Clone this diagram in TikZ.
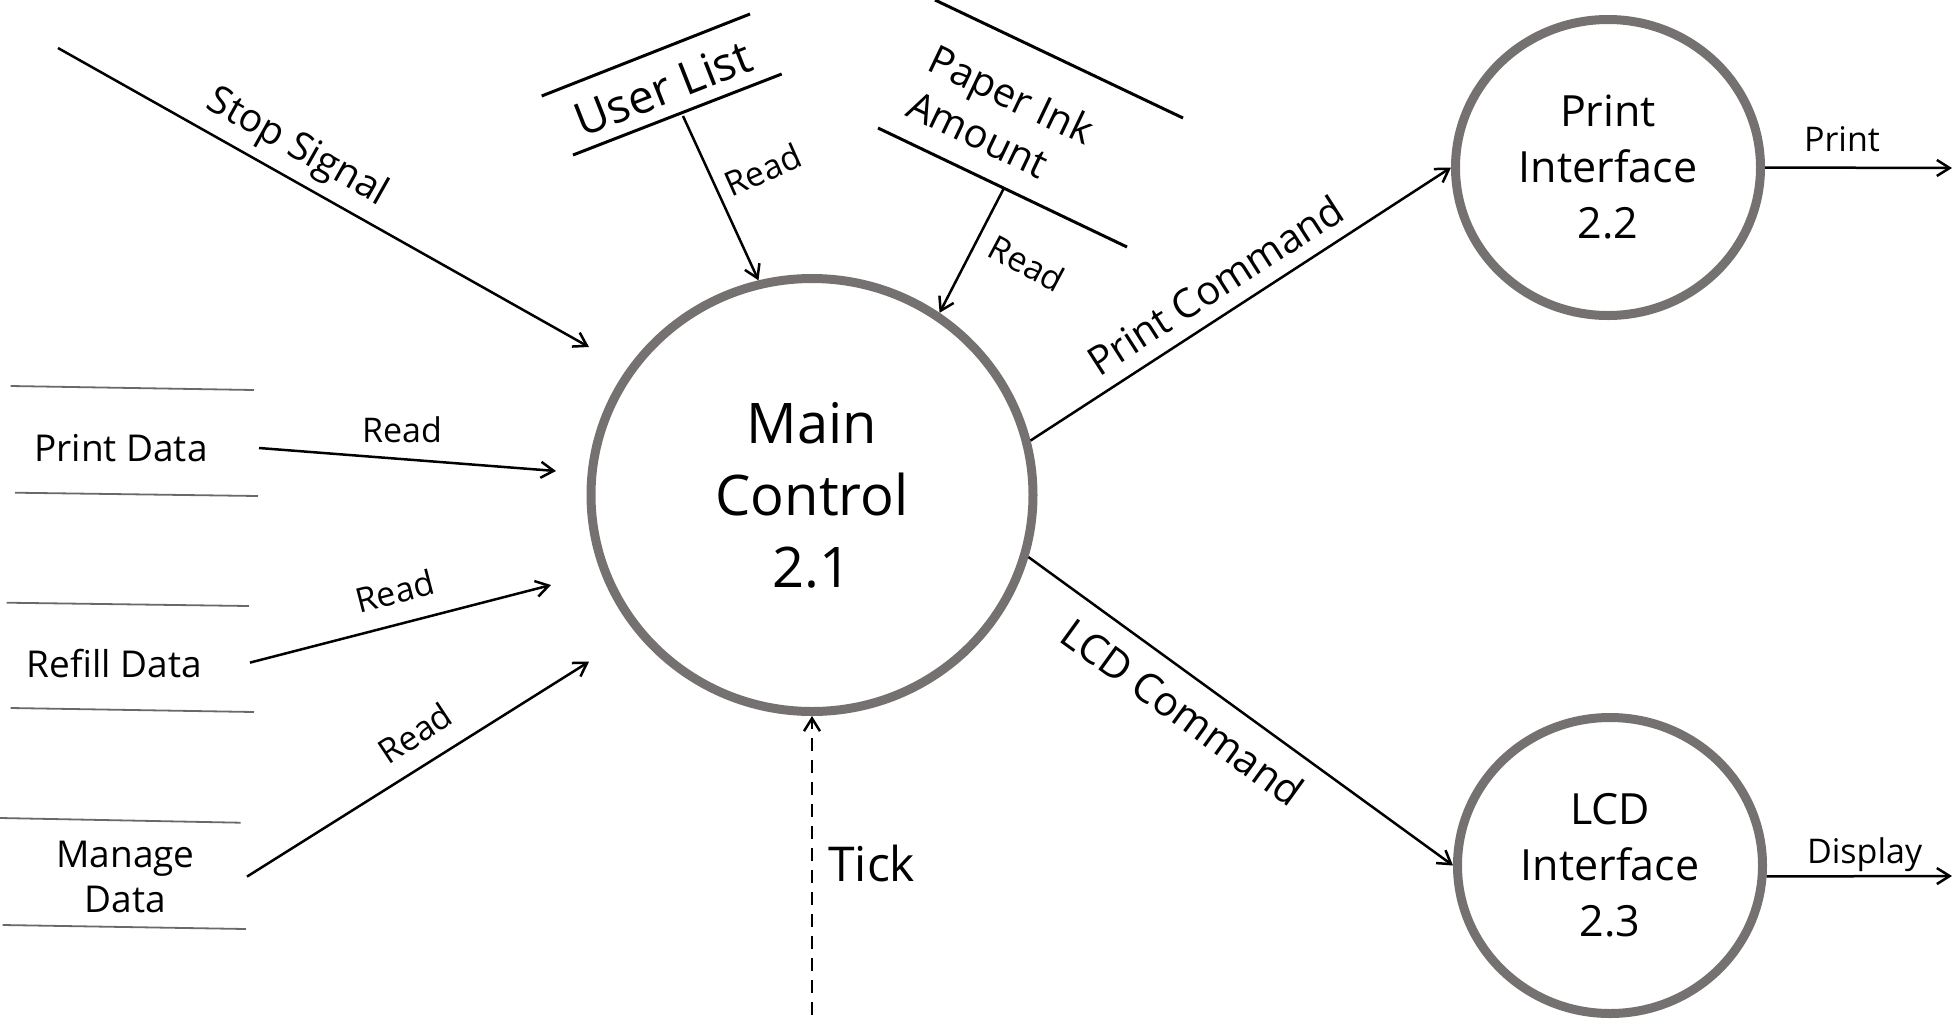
\documentclass[tikz,border=0pt]{standalone}
\usepackage{fontspec}
\setmainfont{Open Sans}
\usetikzlibrary{arrows.meta,shapes.geometric}
\definecolor{ring}{RGB}{118,113,113}
\definecolor{storegray}{RGB}{105,105,105}
\begin{document}
\begin{tikzpicture}[x=0.5pt,y=-0.5pt,
  proc/.style={ellipse, draw=ring, line width=4.5pt, inner sep=0pt, align=center},
  flow/.style={-{Straight Barb[length=6.4pt,width=8pt]}, line width=1.25pt},
  tickflow/.style={flow, dash pattern=on 6.5pt off 4.5pt},
  storeline/.style={line width=1.5pt},
  lstoreline/.style={draw=storegray, line width=0.9pt},
  lstore/.style={inner sep=0pt, align=center, font=\fontsize{18.5}{22.5}\selectfont},
  readlbl/.style={inner sep=0pt, font=\fontsize{17}{20}\selectfont},
  flowlbl/.style={inner sep=0pt, font=\fontsize{20}{24}\selectfont},
]
\useasboundingbox (0,0) rectangle (1956,1024);

% processes
\node[proc, minimum width=221pt, minimum height=216.5pt,
      font=\fontsize{28}{36}\selectfont] (main) at (812,495) {Main\\Control\\2.1};
\node[proc, minimum width=152.5pt, minimum height=148pt,
      font=\fontsize{21.5}{28}\selectfont] (pint) at (1608,167.5) {Print\\Interface\\2.2};
\node[proc, minimum width=152.5pt, minimum height=148pt,
      font=\fontsize{21.5}{28}\selectfont] (lcd) at (1610,865.5) {LCD\\Interface\\2.3};

% left data stores
\node[lstore, anchor=base] (pdata) at (121,461.7) {Print Data};
\draw[lstoreline] (10.7,386) -- (254,390);
\draw[lstoreline] (15,492.7) -- (258,496);
\node[lstore, anchor=base] (rdata) at (114.5,677) {Refill Data};
\draw[lstoreline] (6.7,602.7) -- (249,606);
\draw[lstoreline] (10.7,708) -- (254,712);
\node[lstore] (mdata) at (125.5,877.3) {Manage\\Data};
\draw[lstoreline] (0,818) -- (240.7,822.7);
\draw[lstoreline] (2.7,925) -- (246,929);

% upper data stores
\node[inner sep=0pt, rotate=21.5, font=\fontsize{23}{28}\selectfont] (ulist) at (663,88) {User List};
\draw[storeline] (541.7,96) -- (750,14);
\draw[storeline] (573,155) -- (781.7,74);
\node[inner sep=0pt, rotate=-25.5, align=left, font=\fontsize{20}{25}\selectfont] (paper) at (1001,117) {Paper Ink\\Amount};
\draw[storeline] (935,0) -- (1183,118);
\draw[storeline] (878,128) -- (1127,247);

% connector end points
\coordinate (ul-out) at (683,116);
\coordinate (pa-out) at (1004,188);
\coordinate (pd-out) at (259,448);
\coordinate (pd-in) at (556,471);
\coordinate (rd-out) at (250,662.6);
\coordinate (rd-in) at (551,585);
\coordinate (md-out) at (247,876.6);
\coordinate (md-in) at (589,661.7);
\coordinate (stop-src) at (58,48);
\coordinate (stop-in) at (589,347);
\coordinate (tick-src) at (812,1015);
\coordinate (print-out) at (1952,168);
\coordinate (disp-out) at (1952,876);

% connectors
\draw[flow] (stop-src) -- (stop-in);
\draw[flow] (ul-out) -- (main.104.6);
\draw[flow] (pa-out) -- (main.55.7);
\draw[flow] (pd-out) -- (pd-in);
\draw[flow] (rd-out) -- (rd-in);
\draw[flow] (md-out) -- (md-in);
\draw[tickflow] (tick-src) -- (main.south);
\draw[flow] (main.14.6) -- (pint.west);
\draw[flow] (main.-16.3) -- (lcd.west);
\draw[flow] (pint.east) -- (print-out);
\draw[flow] (lcd.-4) -- (disp-out);

% connector labels
\node[flowlbl, rotate=-29.4, font=\fontsize{19.5}{24}\selectfont] (stoplbl) at (297,148) {Stop Signal};
\node[readlbl, rotate=24] (ulread) at (763,170) {Read};
\node[readlbl, rotate=-28] (paread) at (1027,263) {Read};
\node[readlbl, anchor=base] (pdread) at (402,442) {Read};
\node[readlbl, rotate=14.5] (rdread) at (395,591) {Read};
\node[readlbl, rotate=33.5] (mdread) at (415,733) {Read};
\node[flowlbl, rotate=32.7] (pcmd) at (1215,285) {Print Command};
\node[flowlbl, rotate=-35.9, font=\fontsize{20.5}{24}\selectfont] (lcmd) at (1183,712) {LCD Command};
\node[readlbl, anchor=base] (printlbl) at (1842,151.7) {Print};
\node[readlbl, anchor=base] (displbl) at (1864.6,863) {Display};
\node[inner sep=0pt, anchor=base west, font=\fontsize{24}{28}\selectfont] (ticklbl) at (828,881) {Tick};
\end{tikzpicture}
\end{document}
